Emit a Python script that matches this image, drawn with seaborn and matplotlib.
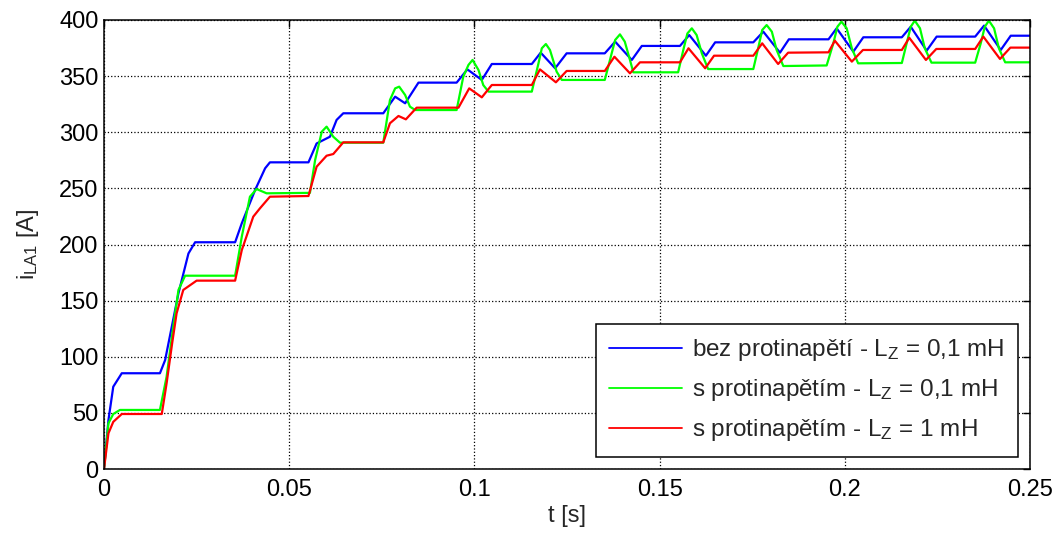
import matplotlib
matplotlib.use("Agg")
import matplotlib.pyplot as plt
from matplotlib.lines import Line2D
import numpy as np
import pandas as pd
import seaborn as sns

# Armature current i_LA1 during start-up, three configurations
t_bez = [0, 0.0012, 0.0025, 0.0048, 0.0151, 0.0165, 0.0201, 0.0228, 0.0246,
         0.0354, 0.0372, 0.0408, 0.0435, 0.0448, 0.0552, 0.0574, 0.0610, 0.0628,
         0.0646, 0.0754, 0.0786, 0.0813, 0.0849, 0.0952, 0.0981, 0.1020, 0.1047,
         0.1155, 0.1179, 0.1218, 0.1249, 0.1352, 0.1380, 0.1425, 0.1452,
         0.1555, 0.1580, 0.1625, 0.1650, 0.1753, 0.1780, 0.1825, 0.1849,
         0.1956, 0.1978, 0.2023, 0.2050, 0.2154, 0.2178, 0.2221, 0.2248,
         0.2352, 0.2376, 0.2421, 0.2448, 0.25]
i_bez = [0, 43.6, 73.3, 85.3, 85.3, 97.0, 156.5, 192.0, 202.0,
         202.0, 218.9, 248.6, 267.9, 273.2, 273.2, 290.0, 296.0, 311.0,
         316.9, 316.9, 331.7, 325.8, 344.2, 344.2, 356.0, 346.6, 360.8,
         360.8, 370.9, 357.0, 370.3, 370.3, 380.7, 364.4, 376.9,
         376.9, 386.6, 368.2, 380.1, 380.1, 389.6, 370.9, 382.8,
         382.8, 392.6, 371.8, 384.6, 384.6, 394.0, 372.7, 385.2,
         385.2, 395.0, 373.3, 386.0, 386.0]

t_s01 = [0, 0.0012, 0.0025, 0.0043, 0.0151, 0.0169, 0.0187, 0.0201, 0.0219,
         0.0354, 0.0372, 0.0394, 0.0412, 0.0439, 0.0556, 0.0570, 0.0588, 0.0601,
         0.0619, 0.0637, 0.0754, 0.0772, 0.0786, 0.0797, 0.0813, 0.0826, 0.0840,
         0.0952, 0.0970, 0.0984, 0.0995, 0.1011, 0.1024, 0.1038,
         0.1155, 0.1173, 0.1182, 0.1193, 0.1204, 0.1222, 0.1236,
         0.1352, 0.1366, 0.1380, 0.1393, 0.1406, 0.1420, 0.1429,
         0.1550, 0.1564, 0.1575, 0.1587, 0.1600, 0.1614, 0.1631,
         0.1753, 0.1767, 0.1777, 0.1789, 0.1803, 0.1816, 0.1834,
         0.1951, 0.1969, 0.1980, 0.1991, 0.2005, 0.2019, 0.2036,
         0.2154, 0.2167, 0.2178, 0.2189, 0.2203, 0.2216, 0.2234,
         0.2352, 0.2367, 0.2378, 0.2389, 0.2403, 0.2416, 0.2433, 0.25]
i_s01 = [0, 40.7, 49.0, 52.6, 52.6, 82.2, 126.8, 159.5, 172.2,
         172.2, 207.0, 242.6, 249.4, 245.6, 246.0, 275.3, 300.5, 305.0,
         296.0, 290.7, 290.7, 328.7, 339.1, 340.6, 333.2, 322.8, 319.8,
         319.8, 349.5, 360.0, 364.4, 355.5, 342.0, 336.2,
         336.2, 361.4, 374.8, 378.6, 373.3, 354.0, 346.6,
         346.6, 364.4, 382.2, 387.2, 380.7, 364.4, 353.4,
         353.4, 373.3, 388.0, 392.6, 386.6, 370.3, 356.3,
         356.3, 376.2, 391.1, 395.5, 389.6, 373.3, 359.0,
         359.5, 379.2, 394.0, 398.5, 392.6, 374.8, 361.4,
         361.7, 379.2, 394.0, 399.4, 392.6, 374.8, 362.0,
         362.0, 379.2, 394.0, 399.4, 392.6, 374.8, 362.3, 362.3]

t_s1 = [0, 0.0012, 0.0025, 0.0048, 0.0156, 0.0169, 0.0184, 0.0196, 0.0214,
        0.0250, 0.0354, 0.0372, 0.0403, 0.0421, 0.0448, 0.0552, 0.0574, 0.0601,
        0.0619, 0.0646, 0.0754, 0.0772, 0.0795, 0.0815, 0.0844, 0.0957, 0.0986,
        0.1020, 0.1047, 0.1155, 0.1177, 0.1220, 0.1249, 0.1352, 0.1378, 0.1420,
        0.1447, 0.1555, 0.1578, 0.1623, 0.1647, 0.1753, 0.1777, 0.1820, 0.1847,
        0.1956, 0.1973, 0.2019, 0.2049, 0.2154, 0.2174, 0.2219, 0.2247,
        0.2352, 0.2374, 0.2419, 0.2447, 0.25]
i_s1 = [0, 31.8, 42.0, 49.0, 49.0, 76.3, 112.0, 138.7, 159.5,
        167.8, 167.8, 195.0, 224.8, 232.2, 242.6, 243.2, 269.3, 279.1,
        280.6, 291.0, 291.0, 308.0, 314.5, 311.5, 321.9, 321.9, 339.1,
        331.1, 342.1, 342.1, 356.0, 344.5, 354.6, 354.6, 367.3, 352.5,
        362.3, 362.3, 374.8, 357.0, 368.2, 368.2, 379.2, 360.8, 370.9,
        371.2, 381.6, 362.9, 373.3, 373.3, 384.2, 364.4, 374.2,
        374.2, 385.2, 365.3, 375.4, 375.4]

labels = [r"bez protinapětí - L$_\mathregular{Z}$ = 0,1 mH",
          r"s protinapětím - L$_\mathregular{Z}$ = 0,1 mH",
          r"s protinapětím - L$_\mathregular{Z}$ = 1 mH"]
colors = ["#0000ff", "#00ff00", "#ff0000"]

x_ticks = [0, 0.05, 0.1, 0.15, 0.2, 0.25]
x_ticklabels = ["0", "0.05", "0.1", "0.15", "0.2", "0.25"]
y_ticks = [0, 50, 100, 150, 200, 250, 300, 350, 400]

frames = []
for k, (tt, ii) in enumerate([(t_bez, i_bez), (t_s01, i_s01), (t_s1, i_s1)]):
    frames.append(pd.DataFrame({"t": tt, "i": ii, "series": labels[k]}))
df = pd.concat(frames, ignore_index=True)

FS = 17

sns.set_style("white")
plt.rcParams["font.family"] = ["Liberation Sans", "DejaVu Sans"]
plt.rcParams["mathtext.fontset"] = "custom"
plt.rcParams["mathtext.rm"] = "Liberation Sans"
plt.rcParams["mathtext.it"] = "Liberation Sans"
plt.rcParams["font.size"] = FS

fig = plt.figure(figsize=(10.63, 5.34), dpi=100)
ax = fig.add_axes([104 / 1063, 1 - 469 / 534, 926 / 1063, 449 / 534])

sns.lineplot(data=df, x="t", y="i", hue="series", palette=colors,
             hue_order=labels, estimator=None, sort=False, linewidth=1.6,
             legend=False, ax=ax)

ax.set_xlim(0, 0.25)
ax.set_ylim(0, 400)
ax.set_xticks(x_ticks)
ax.set_xticklabels(x_ticklabels)
ax.set_yticks(y_ticks)
ax.grid(True, color="black", linestyle=":", linewidth=0.9)
ax.tick_params(axis="both", direction="in", length=5, width=1, top=True,
               right=True, labelsize=FS, colors="black")
ax.tick_params(axis="x", pad=7)
ax.tick_params(axis="y", pad=4)
for s in ax.spines.values():
    s.set_visible(True)
    s.set_color("black")
    s.set_linewidth(1.1)

ax.set_xlabel("t [s]", fontsize=FS, labelpad=3)
ax.set_ylabel(r"i$_\mathregular{LA1}$ [A]", fontsize=FS, labelpad=13)

handles = [Line2D([0], [0], color=c, linewidth=1.3) for c in colors]
leg = ax.legend(handles, labels, loc="lower right", frameon=True, fancybox=False,
                fontsize=17.5, handlelength=3.0, handletextpad=0.4,
                labelspacing=0.58, borderpad=0.55, borderaxespad=0.5,
                bbox_to_anchor=(1.0, 0.0))
leg.get_frame().set_edgecolor("black")
leg.get_frame().set_linewidth(1.1)
leg.get_frame().set_alpha(1)

fig.savefig("out.png", dpi=100)
